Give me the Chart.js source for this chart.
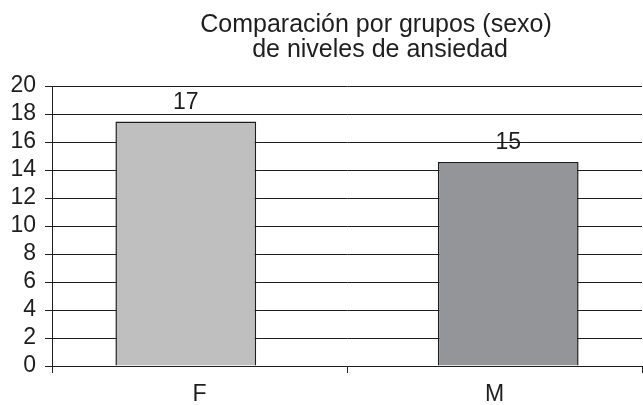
<!DOCTYPE html>
<html>
<head>
<meta charset="utf-8">
<script src="https://cdn.jsdelivr.net/npm/chart.js"></script>
<style>
  body { margin: 0; background: #fff; }
  #wrap { width: 643px; height: 405px; position: relative; }
</style>
</head>
<body>
<div id="wrap"><canvas id="c-ansiedad"></canvas></div>
<script>
var categorias = ['F', 'M'];
var valorF = [17.46, null];
var valorM = [null, 14.58];
var tituloLineas = ['Comparación por grupos (sexo)', 'de niveles de ansiedad'];
var yMin = 0, yMax = 20, yPaso = 2;

var ink = '#1e1e1e';
var fuente = "'Liberation Sans', Arial, sans-serif";

// titulo centrado sobre la zona del grafico (como en el original)
var tituloPlugin = {
  id: 'tituloPlugin',
  afterDraw: function(chart) {
    var ctx = chart.ctx;
    ctx.save();
    ctx.fillStyle = ink;
    ctx.font = '25px ' + fuente;
    ctx.textAlign = 'center';
    ctx.textBaseline = 'alphabetic';
    ctx.fillText(tituloLineas[0], 376, 32);
    ctx.fillText(tituloLineas[1], 380, 57);
    ctx.restore();
  }
};

// etiquetas de valor encima de cada barra
var etiquetasPlugin = {
  id: 'etiquetasPlugin',
  afterDatasetsDraw: function(chart) {
    var ctx = chart.ctx;
    ctx.save();
    ctx.fillStyle = ink;
    ctx.font = '23px ' + fuente;
    ctx.textAlign = 'center';
    ctx.textBaseline = 'alphabetic';
    chart.data.datasets.forEach(function(ds, i) {
      chart.getDatasetMeta(i).data.forEach(function(bar, j) {
        var v = ds.data[j];
        if (v === null || v === undefined) return;
        ctx.fillText(String(Math.round(v)), bar.x, bar.y - 13);
      });
    });
    ctx.restore();
  }
};

new Chart(document.getElementById('c-ansiedad'), {
  type: 'bar',
  data: {
    labels: categorias,
    datasets: [
      {label: 'F', data: valorF, backgroundColor: '#bfbfbf', borderColor: ink, borderWidth: 1.5,
       categoryPercentage: 0.186, barPercentage: 5.13},
      {label: 'M', data: valorM, backgroundColor: '#949598', borderColor: ink, borderWidth: 1.5,
       categoryPercentage: 0.186, barPercentage: 5.13}
    ]
  },
  options: {
    responsive: true,
    maintainAspectRatio: false,
    animation: false,
    layout: {padding: {top: 86, right: 1, left: 0, bottom: 0}},
    plugins: {legend: {display: false}, tooltip: {enabled: false}, title: {display: false}},
    scales: {
      x: {
        grid: {display: true, drawOnChartArea: false, offset: true, color: ink, tickLength: 7},
        border: {display: true, color: ink},
        ticks: {color: ink, font: {size: 23, family: fuente}, padding: 8},
        afterFit: function(s) { s.height = 39; }
      },
      y: {
        min: yMin, max: yMax,
        grid: {color: ink, lineWidth: 1, tickLength: 7},
        border: {display: true, color: ink},
        ticks: {stepSize: yPaso, autoSkip: false, color: ink, font: {size: 23, family: fuente}, padding: 9},
        afterFit: function(s) { s.width = 52; }
      }
    }
  },
  plugins: [tituloPlugin, etiquetasPlugin]
});
</script>
</body>
</html>
